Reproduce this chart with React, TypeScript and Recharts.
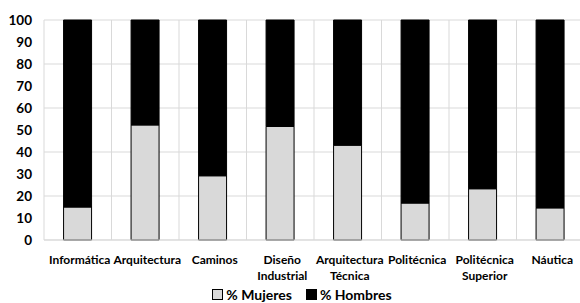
import React from "react";
import { BarChart, Bar, XAxis, YAxis, CartesianGrid, Legend } from "recharts";

const categories = [
  "Informática",
  "Arquitectura",
  "Caminos",
  "Diseño Industrial",
  "Arquitectura Técnica",
  "Politécnica",
  "Politécnica Superior",
  "Náutica",
];
const mujeres = [15, 52.3, 29.2, 51.6, 43.1, 16.8, 23.3, 14.6];
const hombres = [85, 47.7, 70.8, 48.4, 56.9, 83.2, 76.7, 85.4];
const yTicks = [0, 10, 20, 30, 40, 50, 60, 70, 80, 90, 100];

const data = categories.map((name, i) => ({ name, mujeres: mujeres[i], hombres: hombres[i] }));

const FONT = "Lato, 'Open Sans', sans-serif";

function XTick({ x, y, payload }: any) {
  const lines = String(payload.value).split(" ");
  return (
    <text x={x + 2} y={y} textAnchor="middle" fontFamily={FONT} fontWeight={700} fontSize={12} fill="#000">
      {lines.map((l, i) => (
        <tspan key={i} x={x + 2} dy={16}>
          {l}
        </tspan>
      ))}
    </text>
  );
}

function LegendContent() {
  const items = [
    { label: "% Mujeres", color: "#d9d9d9" },
    { label: "% Hombres", color: "#000" },
  ];
  return (
    <div
      style={{
        display: "flex",
        justifyContent: "center",
        gap: 14,
        fontFamily: FONT,
        fontWeight: 700,
        fontSize: 14,
        paddingLeft: 24,
        transform: "translateY(4px)",
      }}
    >
      {items.map((it) => (
        <div key={it.label} style={{ display: "flex", alignItems: "center" }}>
          <span style={{ display: "inline-block", width: 9, height: 9, background: it.color, border: "1px solid #000", marginRight: 3 }} />
          {it.label}
        </div>
      ))}
    </div>
  );
}

export default function App() {
  return (
    <div style={{ position: "absolute", left: 0, top: 0, width: 580, height: 303, overflow: "hidden", background: "#fff" }}>
      <BarChart width={584} height={303} data={data} margin={{ top: 20, right: 0, left: 0, bottom: 0 }} barCategoryGap="29%">
        <CartesianGrid
          stroke="#d9d9d9"
          verticalCoordinatesGenerator={({ offset }: any) =>
            categories.map((_, i) => offset.left + (i * offset.width) / categories.length)
          }
        />
        <XAxis dataKey="name" tick={<XTick />} tickLine={false} axisLine={{ stroke: "#d9d9d9" }} height={42} interval={0} />
        <YAxis
          domain={[0, 100]}
          ticks={yTicks}
          width={44}
          axisLine={false}
          tickLine={false}
          tick={{ fontFamily: FONT, fontWeight: 700, fontSize: 13.5, fill: "#000", dx: -4 }}
        />
        <Legend content={<LegendContent />} verticalAlign="bottom" height={21} wrapperStyle={{ width: 580, left: 0 }} />
        <Bar dataKey="mujeres" stackId="a" fill="#d9d9d9" stroke="#000" strokeWidth={1} isAnimationActive={false} />
        <Bar dataKey="hombres" stackId="a" fill="#000" stroke="#000" strokeWidth={1} isAnimationActive={false} />
      </BarChart>
    </div>
  );
}
